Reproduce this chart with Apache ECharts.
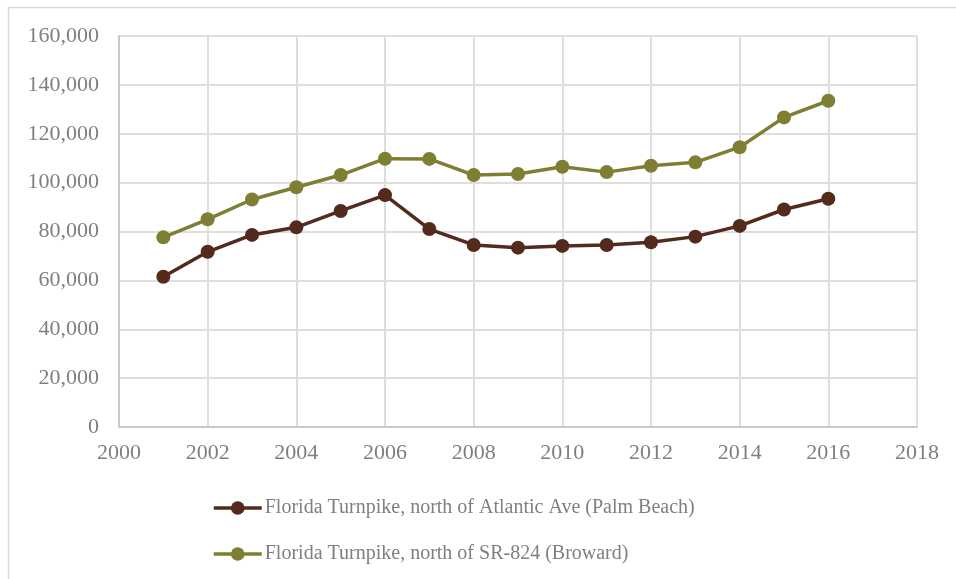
<!DOCTYPE html>
<html>
<head>
<meta charset="utf-8">
<script src="https://cdn.jsdelivr.net/npm/echarts@6/dist/echarts.min.js"></script>
<style>
  html, body { margin: 0; padding: 0; background: #fff; }
  #chart { width: 956px; height: 579px; }
</style>
</head>
<body>
<div id="chart"></div>
<script>
// Annual average daily traffic on the Florida Turnpike, two count stations
const years = [2001, 2002, 2003, 2004, 2005, 2006, 2007, 2008, 2009, 2010, 2011, 2012, 2013, 2014, 2015, 2016];
const palmBeach = [61500, 71700, 78600, 81700, 88400, 94900, 81000, 74500, 73400, 74100, 74500, 75600, 77900, 82300, 89000, 93400];
const broward = [77600, 85000, 93100, 98100, 103100, 109800, 109700, 103100, 103500, 106500, 104300, 106900, 108300, 114500, 126700, 133500];
const seriesNames = [
  'Florida Turnpike, north of Atlantic Ave (Palm Beach)',
  'Florida Turnpike, north of SR-824 (Broward)'
];
const seriesColors = ['#532a1c', '#7f7f33'];

const textColor = '#7f7f7f';
const fontFamily = '"Liberation Serif", "DejaVu Serif", serif';

const chart = echarts.init(document.getElementById('chart'), null, { renderer: 'canvas' });

function makeSeries(name, values, color) {
  return {
    name: name,
    type: 'line',
    data: years.map((y, i) => [y, values[i]]),
    symbol: 'circle',
    symbolSize: 14,
    lineStyle: { color: color, width: 3.5 },
    itemStyle: { color: color },
    emphasis: { disabled: true },
    z: 3
  };
}

chart.setOption({
  animation: false,
  backgroundColor: '#ffffff',
  textStyle: { fontFamily: fontFamily },
  graphic: [{
    type: 'rect',
    shape: { x: 8.5, y: 7.5, width: 1000, height: 600 },
    style: { fill: 'none', stroke: '#d9d9d9', lineWidth: 1.5 },
    silent: true,
    z: -1
  }],
  grid: { left: 119, right: 39, top: 36, bottom: 152 },
  legend: {
    orient: 'vertical',
    left: 207,
    top: 493,
    itemWidth: 48,
    itemHeight: 17,
    itemGap: 26,
    data: seriesNames,
    lineStyle: { width: 3.5 },
    textStyle: { color: textColor, fontSize: 20, fontFamily: fontFamily, padding: [0, 0, 0, -2] },
    selectedMode: false
  },
  xAxis: {
    type: 'value',
    min: 2000,
    max: 2018,
    interval: 2,
    axisLine: { show: true, lineStyle: { color: '#c9c9c9', width: 2 } },
    axisTick: { show: false },
    axisLabel: {
      color: textColor, fontSize: 22, fontFamily: fontFamily, margin: 15,
      formatter: v => String(v)
    },
    splitLine: { show: true, lineStyle: { color: '#dedede', width: 2 } }
  },
  yAxis: {
    type: 'value',
    min: 0,
    max: 160000,
    interval: 20000,
    axisLine: { show: true, lineStyle: { color: '#c9c9c9', width: 2 } },
    axisTick: { show: false },
    axisLabel: {
      color: textColor, fontSize: 22, fontFamily: fontFamily, margin: 20,
      formatter: v => v.toLocaleString('en-US')
    },
    splitLine: { show: true, lineStyle: { color: '#dedede', width: 2 } }
  },
  series: [
    makeSeries(seriesNames[0], palmBeach, seriesColors[0]),
    makeSeries(seriesNames[1], broward, seriesColors[1])
  ]
});
</script>
</body>
</html>
